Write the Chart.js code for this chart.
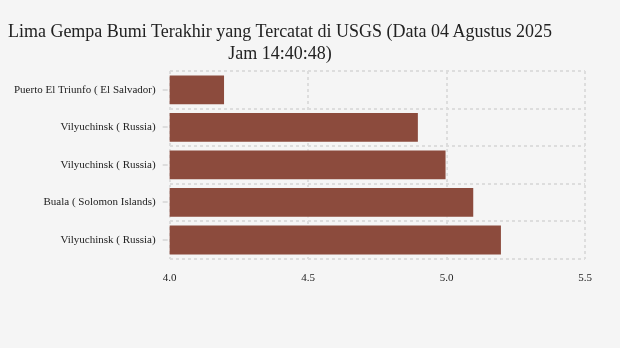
<!DOCTYPE html>
<html>
<head>
<meta charset="utf-8">
<script src="https://cdn.jsdelivr.net/npm/chart.js@4"></script>
<style>
  html, body { margin: 0; padding: 0; background: #f5f5f5; }
  #wrap { position: relative; width: 620px; height: 348px; }
  #title { position: absolute; left: 0; width: 560px; top: 20px; text-align: center;
           font-family: "Liberation Serif", "Times New Roman", serif; font-size: 18px;
           line-height: 22px; color: #222; }
</style>
</head>
<body>
<div id="wrap">
  <canvas id="c" width="620" height="348"></canvas>
  <div id="title">Lima Gempa Bumi Terakhir yang Tercatat di USGS (Data 04 Agustus 2025<br>Jam 14:40:48)</div>
</div>
<script>
const categories = [
  "Puerto El Triunfo ( El Salvador)",
  "Vilyuchinsk ( Russia)",
  "Vilyuchinsk ( Russia)",
  "Buala ( Solomon Islands)",
  "Vilyuchinsk ( Russia)"
];
const magnitudes = [4.2, 4.9, 5.0, 5.1, 5.2];
const xTicks = [4.0, 4.5, 5.0, 5.5];

const gridColor = '#dddddd';
const font = { family: '"Liberation Serif", "Times New Roman", serif', size: 11 };

const yTickMarks = {
  id: 'yTickMarks',
  afterDraw(chart) {
    const y = chart.scales.y;
    const ctx = chart.ctx;
    ctx.save();
    ctx.strokeStyle = gridColor;
    ctx.lineWidth = 2;
    for (let i = 0; i < categories.length; i++) {
      const py = Math.round(y.getPixelForValue(i));
      ctx.beginPath();
      ctx.moveTo(y.right - 7, py);
      ctx.lineTo(y.right - 2, py);
      ctx.stroke();
    }
    ctx.restore();
  }
};

new Chart(document.getElementById('c'), {
  type: 'bar',
  data: {
    labels: categories,
    datasets: [{
      data: magnitudes,
      backgroundColor: '#8c4b3d',
      borderColor: '#f5f5f5',
      borderWidth: 1,
      categoryPercentage: 0.82,
      barPercentage: 1
    }]
  },
  options: {
    indexAxis: 'y',
    responsive: false,
    animation: false,
    layout: { padding: { top: 71, right: 35, bottom: 50, left: 0 } },
    plugins: { legend: { display: false }, title: { display: false }, tooltip: { enabled: false } },
    scales: {
      x: {
        min: 4.0, max: 5.5,
        afterBuildTicks(scale) { scale.ticks = xTicks.map(v => ({ value: v })); },
        ticks: { font, color: '#222', padding: 13, callback: v => Number(v).toFixed(1) },
        grid: { color: gridColor, lineWidth: 2, drawTicks: false },
        border: { display: false, dash: [3, 3] }
      },
      y: {
        offset: true,
        ticks: { font, color: '#222', padding: 14 },
        grid: { color: gridColor, lineWidth: 2, drawTicks: false, offset: true },
        border: { display: false, dash: [3, 3] }
      }
    }
  },
  plugins: [yTickMarks]
});
</script>
</body>
</html>
